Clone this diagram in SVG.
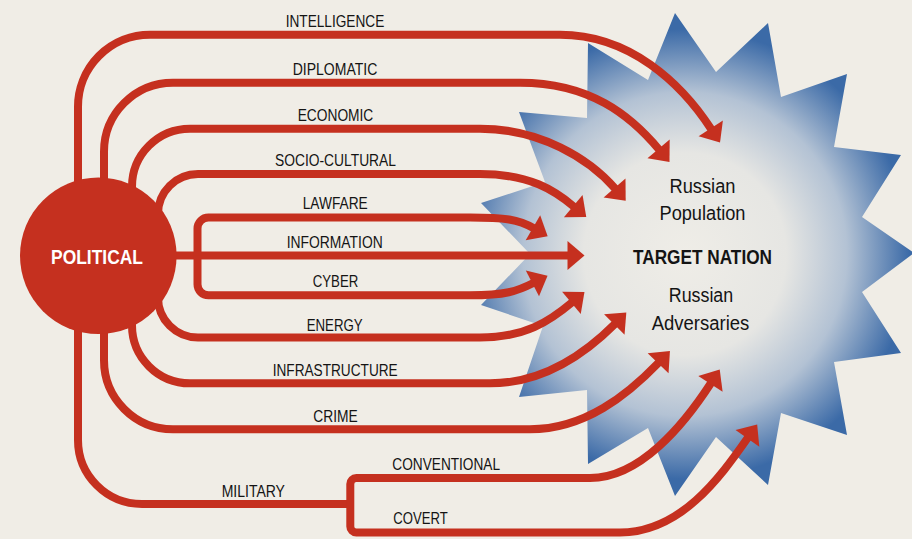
<svg xmlns="http://www.w3.org/2000/svg" width="912" height="539" viewBox="0 0 912 539">
<defs>
<radialGradient id="burst" gradientUnits="userSpaceOnUse" cx="685" cy="254" r="225">
<stop offset="0" stop-color="#efede7"/>
<stop offset="0.45" stop-color="#e6e6e3"/>
<stop offset="0.72" stop-color="#b3c2d4"/>
<stop offset="1" stop-color="#3b6aa7"/>
</radialGradient>
<marker id="ah" markerUnits="userSpaceOnUse" markerWidth="40" markerHeight="40" viewBox="-5 -20 40 40" refX="0" refY="0" orient="auto">
<path d="M-1,-14.5 L16,0 L-1,14.5 Z" fill="#c5301f"/>
</marker>
<style>
.ln{fill:none;stroke:#c5301f;stroke-width:8;stroke-linecap:butt;stroke-linejoin:round}
.arr{marker-end:url(#ah)}
.lb{font-family:"Liberation Sans","Roboto",Arial,sans-serif;font-size:17px;fill:#141414;text-anchor:middle}
.tg{font-family:"Liberation Sans","Roboto",Arial,sans-serif;font-size:20px;fill:#141414;text-anchor:middle}
</style>
</defs>
<rect width="912" height="539" fill="#f0ede6"/>
<g id="target-nation">
<polygon fill="url(#burst)" points="675,13 716,72 768,23 781,97 847,74 834,147 901,155 862,217 914,253 862,292 901,353 834,362 847,435 781,413 768,485 716,437 675,496 648,428 588,464 587,390 519,397 543,326 481,305 530,254 481,203 545,182 519,112 587,118 588,43 648,80"/>
<text class="tg" x="702.5" y="193.3" textLength="66" lengthAdjust="spacingAndGlyphs">Russian</text>
<text class="tg" x="702.5" y="220" textLength="86" lengthAdjust="spacingAndGlyphs">Population</text>
<text class="tg" x="702.5" y="263.5" font-weight="bold" textLength="139" lengthAdjust="spacingAndGlyphs">TARGET NATION</text>
<text class="tg" x="701" y="302.3" textLength="64.4" lengthAdjust="spacingAndGlyphs">Russian</text>
<text class="tg" x="700.5" y="330" textLength="97.7" lengthAdjust="spacingAndGlyphs">Adversaries</text>
</g>
<g id="connectors">
<path class="ln arr" d="M78,215 V107 A72,72 0 0 1 150,34.7 H560 C630,34.7 681.3,83.1 711.3,129.2"/>
<path class="ln arr" d="M104,215 V152 A69,69 0 0 1 173,82.7 H520 C590,82.7 630.3,115.2 659.2,149.7"/>
<path class="ln arr" d="M132,215 V187 A58,58 0 0 1 190,128.7 H480 C540,128.7 589,158.5 615.2,188.7"/>
<path class="ln arr" d="M158,222 V214 A40,40 0 0 1 198,174 H480 C530,174 554.8,190.6 574,206.7"/>
<path class="ln arr" d="M170,255.5 H568.5"/>
<path class="ln arr" d="M197.5,255.5 V228.5 A11,11 0 0 1 208.5,217.5 H470 C505,217.5 518.2,219.3 533.8,228.3"/>
<path class="ln arr" d="M197.5,255.5 V284.3 A11,11 0 0 0 208.5,295.3 H470 C505,295.3 517.3,291.2 533.3,283"/>
<path class="ln arr" d="M158,290 V297.5 A40,40 0 0 0 198,337.5 H480 C525,337.5 549.2,321.5 572.2,302.2"/>
<path class="ln arr" d="M132,300 V325.3 A58,58 0 0 0 190,383.3 H490 C545,383.3 586.7,352.1 615,323.8"/>
<path class="ln arr" d="M104,300 V360.3 A69,69 0 0 0 173,429.3 H530 C585,429.3 627.5,394.9 658.8,362.5"/>
<path class="ln" d="M78,300 V440 A64,64 0 0 0 142,504 H350.3"/>
<path class="ln arr" d="M350.3,504 V484 A6,6 0 0 1 356.3,478 H590 C640,478 683.8,424.9 711,383"/>
<path class="ln arr" d="M350.3,504 V526.5 A6,6 0 0 0 356.3,532.5 H620 C680,532.5 719.3,478.5 748,437.5"/>
</g>
<g id="political">
<circle cx="98.3" cy="255.8" r="78.3" fill="#c5301f"/>
<text x="97" y="263.5" font-family="Liberation Sans, Roboto, Arial, sans-serif" font-size="21" font-weight="bold" fill="#ffffff" text-anchor="middle" textLength="92" lengthAdjust="spacingAndGlyphs">POLITICAL</text>
</g>
<g id="labels">
<text class="lb" x="335" y="26.7" textLength="98.6" lengthAdjust="spacingAndGlyphs">INTELLIGENCE</text>
<text class="lb" x="335" y="75" textLength="84.6" lengthAdjust="spacingAndGlyphs">DIPLOMATIC</text>
<text class="lb" x="335.5" y="120.7" textLength="75.6" lengthAdjust="spacingAndGlyphs">ECONOMIC</text>
<text class="lb" x="335.5" y="166" textLength="121" lengthAdjust="spacingAndGlyphs">SOCIO-CULTURAL</text>
<text class="lb" x="335.2" y="209" textLength="65" lengthAdjust="spacingAndGlyphs">LAWFARE</text>
<text class="lb" x="334.7" y="248.3" textLength="96" lengthAdjust="spacingAndGlyphs">INFORMATION</text>
<text class="lb" x="335.5" y="287.3" textLength="45.6" lengthAdjust="spacingAndGlyphs">CYBER</text>
<text class="lb" x="334.7" y="331" textLength="56" lengthAdjust="spacingAndGlyphs">ENERGY</text>
<text class="lb" x="335.2" y="376" textLength="125" lengthAdjust="spacingAndGlyphs">INFRASTRUCTURE</text>
<text class="lb" x="335.5" y="422.3" textLength="44.4" lengthAdjust="spacingAndGlyphs">CRIME</text>
<text class="lb" x="253.3" y="497.3" textLength="63.3" lengthAdjust="spacingAndGlyphs">MILITARY</text>
<text class="lb" x="446.2" y="470" textLength="107.7" lengthAdjust="spacingAndGlyphs">CONVENTIONAL</text>
<text class="lb" x="420.5" y="524" textLength="54.4" lengthAdjust="spacingAndGlyphs">COVERT</text>
</g>
</svg>
